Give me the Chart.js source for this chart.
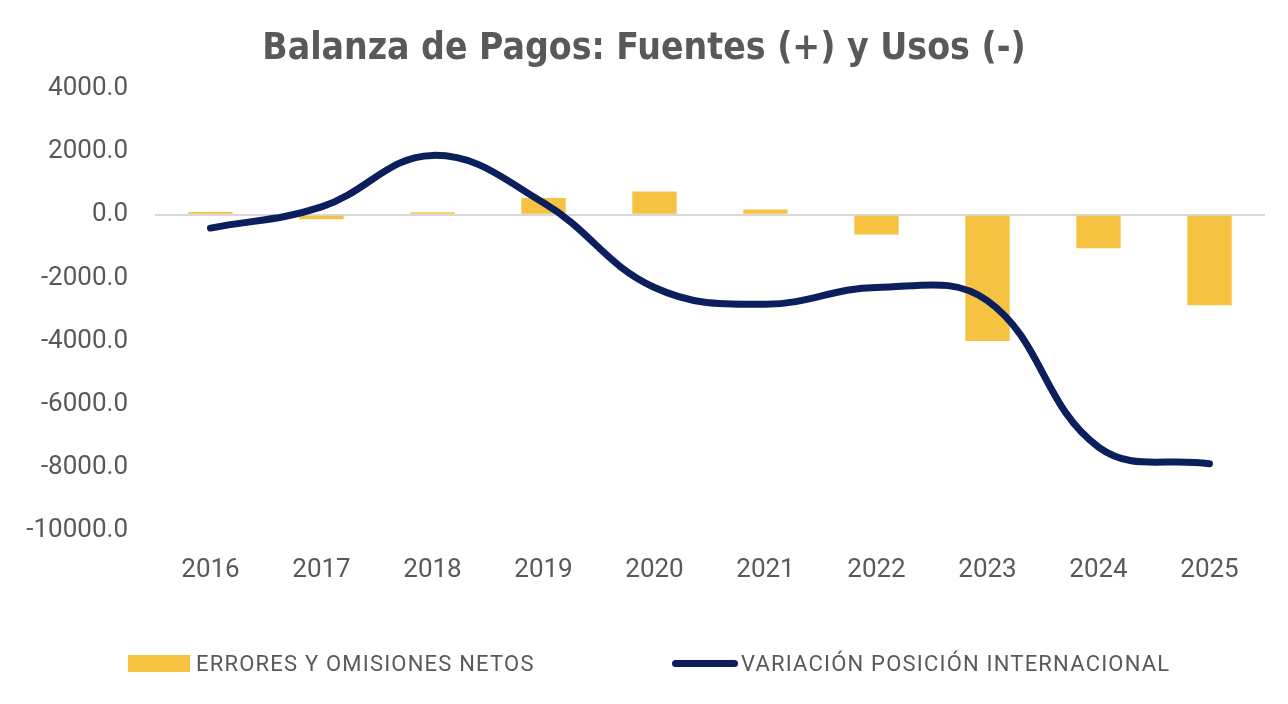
<!DOCTYPE html>
<html lang="es">
<head>
<meta charset="utf-8">
<title>Balanza de Pagos: Fuentes (+) y Usos (-)</title>
<script src="https://cdn.jsdelivr.net/npm/chart.js@4.4.1/dist/chart.umd.min.js"></script>
<style>
    body { margin: 0; background: #fff; }
    #wrap { position: relative; width: 1288px; height: 704px; }
    .legend { position: absolute; top: 651px; display: flex; align-items: center;
              font-family: Roboto, sans-serif; font-size: 22px; letter-spacing: 1.2px; color: #595959; }
    .legend .box { width: 62px; height: 17px; background: #F5C242; margin-right: 6px; }
    .legend .line { width: 66px; height: 7px; border-radius: 4px; background: #0B1F5C; margin-right: 3px; }
</style>
</head>
<body>
<div id="wrap">
    <canvas id="bopChart" width="1288" height="704"></canvas>
    <div class="legend" style="left:128px"><span class="box"></span>ERRORES Y OMISIONES NETOS</div>
    <div class="legend" style="left:672px"><span class="line"></span>VARIACIÓN POSICIÓN INTERNACIONAL</div>
</div>
<script>
/* ================================
   DATOS
================================ */
const years = ['2016', '2017', '2018', '2019', '2020', '2021', '2022', '2023', '2024', '2025'];
const erroresOmisiones = [90, -140, 80, 530, 740, 170, -620, -3990, -1060, -2860];
const variacionPosicion = [-420, 250, 1880, 380, -2300, -2830, -2300, -2720, -7350, -7880];
const yTicks = [4000, 2000, 0, -2000, -4000, -6000, -8000, -10000];

const GRAY = '#595959';

/* ================================
   GRÁFICO
================================ */
const ctx = document.getElementById('bopChart').getContext('2d');
new Chart(ctx, {
    type: 'bar',
    data: {
        labels: years,
        datasets: [
            {
                label: 'ERRORES Y OMISIONES NETOS',
                data: erroresOmisiones,
                backgroundColor: '#F5C242',
                barPercentage: 0.4,
                categoryPercentage: 1,
                order: 1
            },
            {
                type: 'line',
                label: 'VARIACIÓN POSICIÓN INTERNACIONAL',
                data: variacionPosicion,
                borderColor: '#0B1F5C',
                borderWidth: 7,
                borderCapStyle: 'round',
                tension: 0.4,
                pointRadius: 0,
                fill: false,
                order: 0
            }
        ]
    },
    options: {
        responsive: false,
        animation: false,
        // izquierda y derecha iguales para que el título quede centrado
        layout: { padding: { left: 23, right: 23, top: 0, bottom: 102 } },
        plugins: {
            legend: { display: false },
            tooltip: { enabled: false },
            title: {
                display: true,
                text: 'Balanza de Pagos: Fuentes (+) y Usos (-)',
                color: GRAY,
                font: { family: "'DejaVu Sans Condensed', 'DejaVu Sans'", size: 37, weight: 'bold' },
                padding: { top: 27, bottom: 17 }
            }
        },
        scales: {
            x: {
                grid: { display: false },
                border: { display: false },
                ticks: { color: GRAY, font: { family: 'Roboto', size: 26 }, padding: 16, maxRotation: 0 }
            },
            y: {
                min: -10000,
                max: 4000,
                afterFit: (scale) => { scale.width = 132; },
                afterBuildTicks: (scale) => { scale.ticks = yTicks.map(v => ({ value: v })); },
                border: { display: false },
                grid: {
                    drawTicks: false,
                    lineWidth: 2,
                    color: (c) => (c.tick && c.tick.value === 0) ? '#D9D9D9' : 'rgba(0,0,0,0)'
                },
                ticks: {
                    color: GRAY,
                    font: { family: 'Roboto', size: 26 },
                    padding: 27,
                    callback: (v) => Number(v).toFixed(1)
                }
            }
        }
    }
});
</script>
</body>
</html>
